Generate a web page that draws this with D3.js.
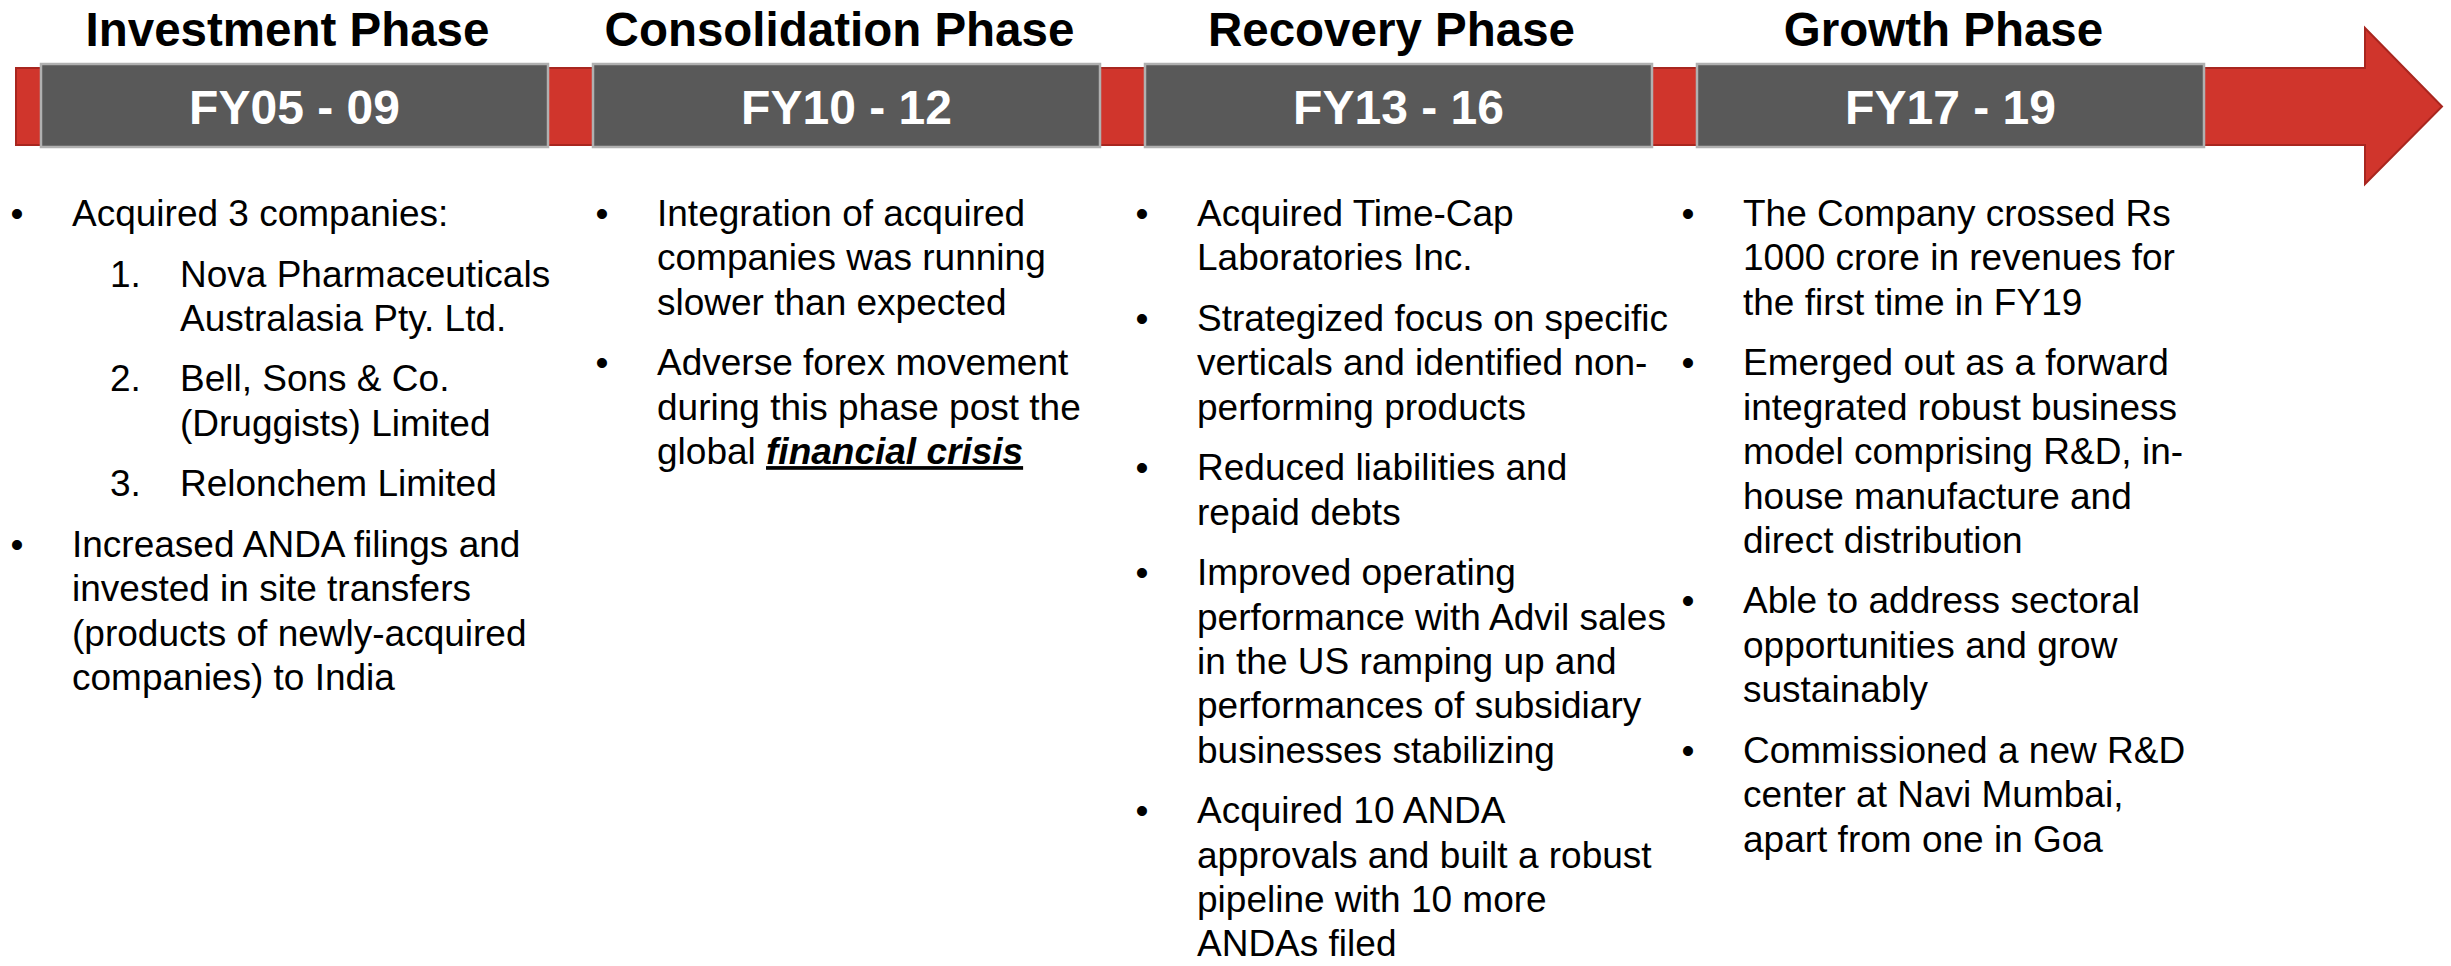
<!DOCTYPE html>
<meta charset="utf-8">
<head>
  <script src="https://d3js.org/d3.v7.min.js"></script>
  <style>
    body { margin: 0; background: #fff; font-family: "Liberation Sans", Arial, sans-serif; }
  </style>
</head>
<div id="my_dataviz"></div>

<script>
  // phases along the arrow
  var phases = ["Investment Phase", "Consolidation Phase", "Recovery Phase", "Growth Phase"];
  var periods = ["FY05 - 09", "FY10 - 12", "FY13 - 16", "FY17 - 19"];

  // bullet text per phase, one entry per paragraph (num = numbered sub item)
  var investmentNotes = [
    { lines: ["Acquired 3 companies:"] },
    { num: "1.", lines: ["Nova Pharmaceuticals", "Australasia Pty. Ltd."] },
    { num: "2.", lines: ["Bell, Sons & Co.", "(Druggists) Limited"] },
    { num: "3.", lines: ["Relonchem Limited"] },
    { lines: ["Increased ANDA filings and", "invested in site transfers", "(products of newly-acquired", "companies) to India"] }
  ];
  var consolidationNotes = [
    { lines: ["Integration of acquired", "companies was running", "slower than expected"] },
    { lines: ["Adverse forex movement", "during this phase post the", "global |financial crisis|"] }
  ];
  var recoveryNotes = [
    { lines: ["Acquired Time-Cap", "Laboratories Inc."] },
    { lines: ["Strategized focus on specific", "verticals and identified non-", "performing products"] },
    { lines: ["Reduced liabilities and", "repaid debts"] },
    { lines: ["Improved operating", "performance with Advil sales", "in the US ramping up and", "performances of subsidiary", "businesses stabilizing"] },
    { lines: ["Acquired 10 ANDA", "approvals and built a robust", "pipeline with 10 more", "ANDAs filed"] }
  ];
  var growthNotes = [
    { lines: ["The Company crossed Rs", "1000 crore in revenues for", "the first time in FY19"] },
    { lines: ["Emerged out as a forward", "integrated robust business", "model comprising R&D, in-", "house manufacture and", "direct distribution"] },
    { lines: ["Able to address sectoral", "opportunities and grow", "sustainably"] },
    { lines: ["Commissioned a new R&D", "center at Navi Mumbai,", "apart from one in Goa"] }
  ];
  var notes = [investmentNotes, consolidationNotes, recoveryNotes, growthNotes];

  // layout
  var width = 2451, height = 966;
  var boxTop = 64, boxBottom = 147;
  var shaftTop = 68, shaftBottom = 145, headTop = 28, headBottom = 184;
  var shaftStart = 16, headBase = 2365, tipX = 2442;
  var textStart = [72, 657, 1197, 1743];
  var firstBaseline = 226, lineStep = 44.4, paraStep = 60.5;

  var red = "#d0352c", redDark = "#a8261f", boxFill = "#595959", boxStroke = "#b0b0b0";

  var svg = d3.select("#my_dataviz")
    .append("svg")
    .attr("width", width)
    .attr("height", height);

  // boxes placed with a band scale
  var x = d3.scaleBand()
    .domain(phases)
    .range([41, 2204])
    .paddingInner(0.0815)
    .paddingOuter(0);

  var cols = d3.scaleOrdinal().domain(phases).range(textStart);

  // the red arrow
  var midY = (shaftTop + shaftBottom) / 2;
  var arrow = d3.path();
  arrow.moveTo(shaftStart, shaftTop);
  arrow.lineTo(headBase, shaftTop);
  arrow.lineTo(headBase, headTop);
  arrow.lineTo(tipX, midY);
  arrow.lineTo(headBase, headBottom);
  arrow.lineTo(headBase, shaftBottom);
  arrow.lineTo(shaftStart, shaftBottom);
  arrow.closePath();

  svg.append("path")
    .attr("d", arrow.toString())
    .attr("fill", red)
    .attr("stroke", redDark)
    .attr("stroke-width", 2)
    .attr("stroke-linejoin", "miter");

  // phase headers
  svg.selectAll(".phase")
    .data(phases)
    .enter()
    .append("text")
    .attr("class", "phase")
    .attr("x", function (d) { return x(d) + x.bandwidth() / 2 - 7; })
    .attr("y", 46)
    .attr("text-anchor", "middle")
    .style("font-size", "47.5px")
    .style("font-weight", "bold")
    .style("fill", "#000")
    .text(function (d) { return d; });

  // grey period boxes
  svg.selectAll(".box")
    .data(phases)
    .enter()
    .append("rect")
    .attr("class", "box")
    .attr("x", function (d) { return x(d); })
    .attr("y", boxTop)
    .attr("width", x.bandwidth())
    .attr("height", boxBottom - boxTop)
    .attr("fill", boxFill)
    .attr("stroke", boxStroke)
    .attr("stroke-width", 2.5);

  svg.selectAll(".period")
    .data(periods)
    .enter()
    .append("text")
    .attr("class", "period")
    .attr("x", function (d, i) { return x(phases[i]) + x.bandwidth() / 2; })
    .attr("y", 124)
    .attr("text-anchor", "middle")
    .style("font-size", "48px")
    .style("font-weight", "bold")
    .style("fill", "#fff")
    .text(function (d) { return d; });

  // bullet text columns
  notes.forEach(function (paras, i) {
    var tx = cols(phases[i]);
    var g = svg.append("g").style("font-size", "37px").style("fill", "#000");
    var y = firstBaseline;
    paras.forEach(function (p, pi) {
      if (pi > 0) y += paraStep;
      var lx = tx;
      if (p.num) {
        g.append("text").attr("x", tx + 38).attr("y", y).text(p.num);
        lx = tx + 108;
      } else {
        g.append("text")
          .attr("x", tx - 55)
          .attr("y", y)
          .attr("text-anchor", "middle")
          .text("\u2022");
      }
      p.lines.forEach(function (line, li) {
        if (li > 0) y += lineStep;
        var t = g.append("text").attr("x", lx).attr("y", y);
        // parts between | | are bold italic underlined
        line.split("|").forEach(function (part, k) {
          if (!part) return;
          var s = t.append("tspan").text(part);
          if (k % 2 === 1) {
            s.style("font-weight", "bold")
              .style("font-style", "italic")
              .style("text-decoration", "underline");
          }
        });
      });
    });
  });
</script>
